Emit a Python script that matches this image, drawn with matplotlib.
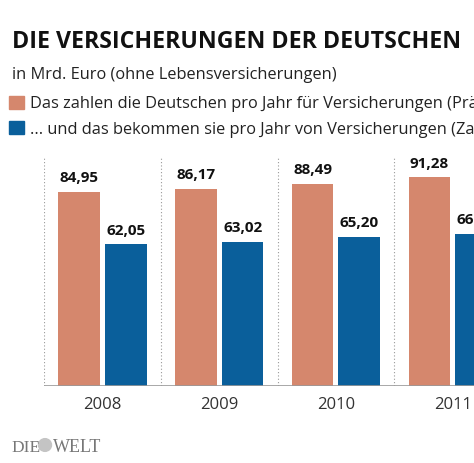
import matplotlib.pyplot as plt
import numpy as np
from matplotlib.patches import Rectangle, Circle

plt.rcParams['font.family'] = ['Open Sans', 'DejaVu Sans']

# data
years = ['2008', '2009', '2010', '2011']
praemien = [84.95, 86.17, 88.49, 91.28]
zahlungen = [62.05, 63.02, 65.20, 66.55]

orange = '#D5876D'
blue = '#0A5F9B'

W, H = 474, 463
fig = plt.figure(figsize=(W / 100, H / 100), dpi=100)

# axes extends past the right edge, like the cropped original
ax = fig.add_axes([44.3 / W, (H - 385.7) / H, 466.7 / W, 228.4 / H])
x = np.arange(len(years))
bw = 0.357
ax.bar(x - 0.2, praemien, bw, color=orange)
ax.bar(x + 0.2, zahlungen, bw, color=blue)

def fmt(v):
    return f'{v:.2f}'.replace('.', ',')

for xi, v in zip(x - 0.2, praemien):
    ax.text(xi, v + 2.8, fmt(v), ha='center', va='bottom', fontsize=11, fontweight='bold', color='#111111')
for xi, v in zip(x + 0.2, zahlungen):
    ax.text(xi, v + 2.8, fmt(v), ha='center', va='bottom', fontsize=11, fontweight='bold', color='#111111')

ax.set_xlim(-0.5, 3.5)
ax.set_ylim(0, 100)
for b in [-0.5, 0.5, 1.5, 2.5]:
    ax.axvline(b, color='#999999', linestyle=(0, (1, 2)), linewidth=0.8)
ax.axhline(0, color='#999999', linewidth=1.2)
for s in ax.spines.values():
    s.set_visible(False)
ax.set_yticks([])
ax.set_xticks(x)
ax.set_xticklabels(years, fontsize=12, color='#333333')
ax.tick_params(axis='x', length=0, pad=8)

# header
fig.text(12 / W, 1 - 48 / H, 'DIE VERSICHERUNGEN DER DEUTSCHEN', fontsize=16.7,
         fontweight='bold', color='#111111', ha='left', va='baseline')
fig.text(12 / W, 1 - 79 / H, 'in Mrd. Euro (ohne Lebensversicherungen)', fontsize=11.8,
         color='#222222', ha='left', va='baseline')

# legend
fig.patches.append(Rectangle((9 / W, 1 - 108.5 / H), 14.5 / W, 13 / H, color=orange,
                             transform=fig.transFigure))
fig.text(30 / W, 1 - 108 / H, 'Das zahlen die Deutschen pro Jahr für Versicherungen (Prämien)',
         fontsize=11.8, color='#222222', ha='left', va='baseline')
fig.patches.append(Rectangle((9 / W, 1 - 134 / H), 14.5 / W, 13 / H, color=blue,
                             transform=fig.transFigure))
fig.text(30 / W, 1 - 133.5 / H, '... und das bekommen sie pro Jahr von Versicherungen (Zahlungen)',
         fontsize=11.8, color='#222222', ha='left', va='baseline')

# logo
fig.text(11.5 / W, 1 - 451.7 / H, 'DIE', fontsize=12.5, family='Liberation Serif', color='#777777',
         ha='left', va='baseline')
fig.patches.append(Circle((45 / W, 1 - 445 / H), 6.5 / W, color='#c4c4c4', transform=fig.transFigure))
fig.text(52.5 / W, 1 - 451.7 / H, 'WELT', fontsize=13, family='Liberation Serif', color='#777777',
         ha='left', va='baseline')

fig.savefig('out.png', dpi=100)
